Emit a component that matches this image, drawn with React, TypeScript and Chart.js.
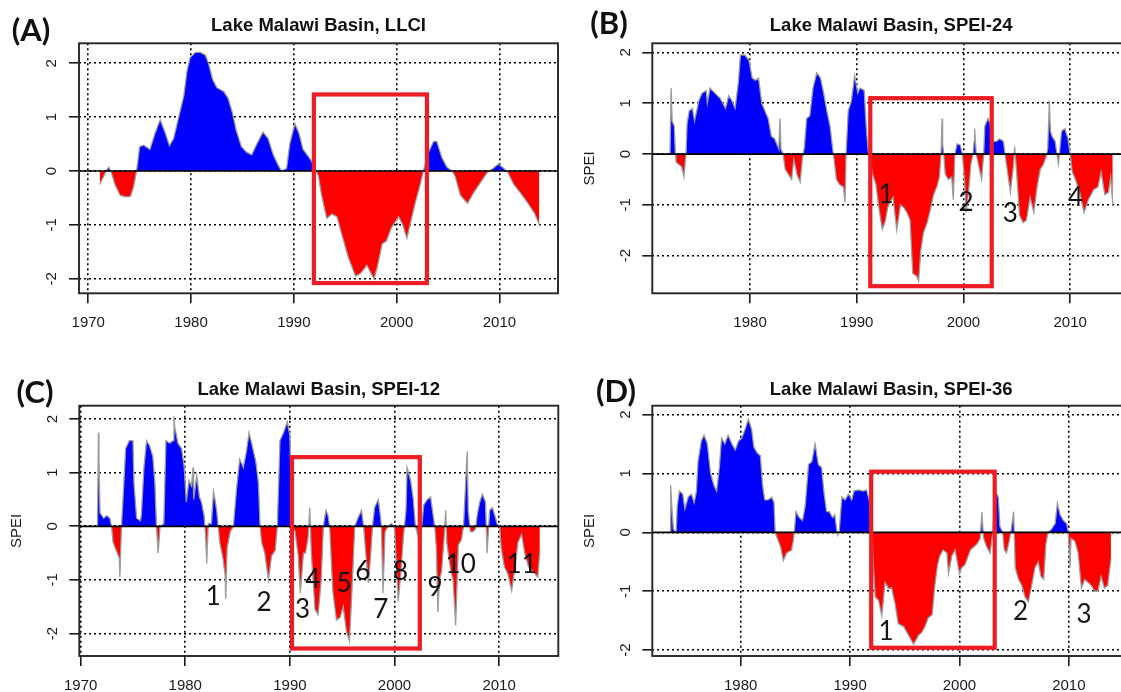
import React, { useEffect, useRef } from 'react';
import { Chart, registerables } from 'chart.js';

Chart.register(...registerables);

type Pt = [number, number];
type Mark = [string, number, number];

// ---------- data (year, index value) ----------
const llciSeries: Pt[] = [
  [1971.1, -0.25], [1971.5, -0.1], [1971.8, 0.02], [1972.0, 0.07], [1972.2, 0], [1972.6, -0.25],
  [1973.1, -0.45], [1973.6, -0.48], [1974.1, -0.47], [1974.4, -0.3], [1974.7, 0], [1975.0, 0.45],
  [1975.4, 0.48], [1976.0, 0.4], [1976.5, 0.7], [1977.0, 0.95], [1977.5, 0.7], [1977.9, 0.47],
  [1978.3, 0.6], [1978.8, 1.0], [1979.3, 1.4], [1979.6, 1.85], [1979.9, 2.1], [1980.4, 2.2],
  [1980.9, 2.2], [1981.4, 2.15], [1981.7, 2.0], [1982.1, 1.7], [1982.5, 1.55], [1983.2, 1.47],
  [1983.6, 1.35], [1984.0, 1.1], [1984.4, 0.75], [1984.9, 0.45], [1985.4, 0.35], [1985.9, 0.3],
  [1986.4, 0.5], [1987.0, 0.72], [1987.5, 0.6], [1988.0, 0.3], [1988.5, 0.1], [1988.8, 0.0],
  [1989.3, 0.05], [1989.6, 0.5], [1990.1, 0.88], [1990.5, 0.7], [1990.9, 0.4], [1991.6, 0.22],
  [1992.1, 0.05], [1992.4, -0.1], [1992.7, -0.45], [1993.2, -0.88], [1993.7, -0.8], [1994.2, -0.85],
  [1994.7, -1.2], [1995.3, -1.6], [1996.0, -1.95], [1996.5, -1.9], [1997.1, -1.75], [1997.8, -2.0],
  [1998.1, -1.8], [1998.6, -1.35], [1999.0, -1.3], [1999.5, -1.05], [2000.2, -0.85], [2000.6, -1.0],
  [2001.0, -1.25], [2001.3, -1.0], [2001.8, -0.6], [2002.3, -0.25], [2002.6, 0], [2003.1, 0.35],
  [2003.6, 0.55], [2003.9, 0.55], [2004.4, 0.25], [2004.9, 0.07], [2005.4, 0.0], [2005.7, -0.1],
  [2006.2, -0.45], [2006.9, -0.6], [2007.5, -0.4], [2008.2, -0.2], [2008.8, -0.03], [2009.4, 0.05],
  [2009.9, 0.13], [2010.4, 0.05], [2010.8, -0.02], [2011.4, -0.25], [2012.1, -0.42], [2012.7, -0.58],
  [2013.4, -0.78], [2013.9, -1.0],
];

const spei24Series: Pt[] = [
  [1972.5, 0], [1972.6, 1.3], [1972.7, 0.65], [1972.9, 0.55], [1973.0, 0], [1973.06, -0.15],
  [1973.3, -0.2], [1973.6, -0.25], [1973.8, -0.45], [1974.0, 0], [1974.1, 0.6], [1974.3, 0.85],
  [1974.6, 0.9], [1974.8, 0.65], [1975.2, 1.05], [1975.5, 1.2], [1975.9, 1.25], [1976.0, 1.0],
  [1976.25, 1.3], [1976.7, 1.2], [1977.2, 1.1], [1977.7, 0.9], [1978.0, 1.15], [1978.3, 1.05],
  [1978.6, 0.9], [1978.9, 1.4], [1979.1, 1.95], [1979.5, 1.95], [1979.9, 1.85], [1980.2, 1.5],
  [1980.5, 1.45], [1980.8, 1.5], [1981.1, 1.0], [1981.4, 0.85], [1981.7, 0.7], [1982.0, 0.35],
  [1982.3, 0.3], [1982.7, 0.1], [1982.8, 0.7], [1982.9, 0.1], [1983.1, 0], [1983.3, -0.3],
  [1983.6, -0.4], [1983.9, -0.5], [1984.1, -0.1], [1984.4, -0.4], [1984.7, -0.55], [1984.9, -0.1],
  [1985.1, 0.15], [1985.3, 0.7], [1985.6, 0.75], [1985.9, 1.3], [1986.25, 1.6], [1986.6, 1.5],
  [1986.9, 1.2], [1987.2, 0.85], [1987.5, 0.55], [1987.75, 0.1], [1987.9, -0.15], [1988.1, -0.5],
  [1988.4, -0.6], [1988.75, -0.65], [1988.9, -0.95], [1989.0, 0], [1989.2, 0.85], [1989.5, 1.05],
  [1989.8, 1.55], [1990.1, 1.2], [1990.3, 1.3], [1990.7, 1.25], [1990.9, 0.5], [1991.1, 0],
  [1991.3, -0.2], [1991.5, -0.4], [1991.8, -0.6], [1992.1, -1.1], [1992.4, -1.48], [1992.7, -1.3],
  [1992.9, -1.05], [1993.1, -0.95], [1993.4, -0.85], [1993.75, -1.5], [1994.1, -1.0], [1994.4, -1.05],
  [1994.7, -1.15], [1995.0, -1.3], [1995.25, -2.35], [1995.6, -2.4], [1995.8, -2.5], [1996.0, -1.9],
  [1996.25, -1.55], [1996.6, -1.35], [1996.9, -1.1], [1997.2, -0.8], [1997.5, -0.65], [1997.75, -0.45],
  [1997.9, 0], [1998.0, 0.7], [1998.05, 0.2], [1998.15, 0], [1998.3, -0.4], [1998.6, -0.5],
  [1998.9, -0.45], [1999.05, -0.9], [1999.2, 0], [1999.4, 0.2], [1999.7, 0.18], [1999.9, 0],
  [2000.1, -0.5], [2000.25, -1.15], [2000.5, -0.7], [2000.7, -0.2], [2000.9, 0], [2001.0, 0.25],
  [2001.05, 0.5], [2001.2, 0], [2001.4, -0.2], [2001.7, -0.5], [2001.9, 0], [2002.0, 0.55],
  [2002.3, 0.7], [2002.5, 0.6], [2002.75, 0.25], [2003.1, 0.25], [2003.4, 0.3], [2003.75, 0.25],
  [2003.9, 0], [2004.1, -0.3], [2004.4, -0.75], [2004.7, -0.2], [2004.8, 0.15], [2005.0, -0.4],
  [2005.25, -1.2], [2005.6, -1.35], [2005.9, -1.3], [2006.25, -0.85], [2006.6, -1.15], [2006.9, -0.65],
  [2007.2, -0.3], [2007.5, -0.2], [2007.75, -0.05], [2007.9, 0.1], [2008.05, 1.05], [2008.15, 0.45],
  [2008.3, 0.35], [2008.6, 0.25], [2008.9, -0.2], [2009.2, 0.45], [2009.5, 0.5], [2009.8, 0.3],
  [2010.0, 0], [2010.2, -0.35], [2010.5, -0.5], [2010.9, -0.75], [2011.3, -1.15], [2011.7, -0.9],
  [2012.2, -0.7], [2012.6, -0.65], [2012.9, -0.35], [2013.25, -0.8], [2013.6, -0.75], [2013.8, -0.45],
  [2014.0, -1.0],
];

const spei12Series: Pt[] = [
  [1971.6, 0], [1971.7, 1.75], [1971.75, 1.25], [1971.85, 0.25], [1972.2, 0.15], [1972.5, 0.2],
  [1972.8, 0.15], [1972.95, 0], [1973.1, -0.3], [1973.4, -0.45], [1973.7, -0.6], [1973.75, -0.95],
  [1973.9, 0], [1974.1, 0.7], [1974.3, 1.45], [1974.65, 1.6], [1975.0, 1.6], [1975.1, 0.8],
  [1975.35, 0.15], [1975.7, 0.1], [1975.8, 0.2], [1976.05, 1.1], [1976.3, 1.6], [1976.6, 1.5],
  [1976.9, 1.3], [1977.1, 0.8], [1977.25, 0], [1977.4, -0.5], [1977.6, 0], [1977.95, 0.05],
  [1978.15, 1.6], [1978.5, 1.55], [1978.85, 1.6], [1978.92, 2.05], [1979.0, 1.85], [1979.3, 1.55],
  [1979.65, 1.45], [1979.9, 1.1], [1980.1, 0.45], [1980.35, 0.85], [1980.6, 0.75], [1980.75, 1.1],
  [1980.8, 0.5], [1981.1, 0.95], [1981.35, 0.55], [1981.55, 0.45], [1981.8, 0.2], [1981.95, -0.2],
  [1982.05, -0.7], [1982.2, 0.05], [1982.5, 0.05], [1982.7, 0.65], [1982.8, 0.55], [1983.0, 0.3],
  [1983.15, 0], [1983.3, -0.3], [1983.6, -0.6], [1983.8, -0.9], [1983.87, -1.35], [1984.0, -0.4],
  [1984.3, -0.1], [1984.6, 0], [1984.9, 0.7], [1985.2, 1.25], [1985.55, 1.1], [1985.85, 1.4],
  [1986.1, 1.75], [1986.4, 1.5], [1986.75, 1.2], [1987.0, 0.8], [1987.15, 0], [1987.3, -0.3],
  [1987.6, -0.5], [1987.95, -1.0], [1988.25, -0.55], [1988.6, -0.45], [1988.8, 0], [1989.05, 1.6],
  [1989.4, 1.75], [1989.75, 1.95], [1990.0, 1.7], [1990.2, 0], [1990.5, -0.1], [1990.8, -0.55],
  [1991.0, -1.25], [1991.3, -0.5], [1991.5, -0.5], [1991.75, -0.2], [1991.9, 0.35], [1992.05, -0.5],
  [1992.4, -1.55], [1992.7, -1.65], [1993.0, -1.0], [1993.2, 0], [1993.45, 0.3], [1993.65, 0.2],
  [1993.8, 0], [1994.1, -1.2], [1994.45, -1.75], [1994.8, -1.7], [1995.1, -1.5], [1995.4, -1.95],
  [1995.7, -2.15], [1996.05, -0.7], [1996.2, 0], [1996.5, 0.15], [1996.85, 0.3], [1997.05, 0],
  [1997.25, -0.5], [1997.5, -1.05], [1997.7, -0.6], [1997.9, 0], [1998.1, 0.35], [1998.45, 0.5],
  [1998.65, 0.2], [1998.75, 0], [1998.9, -1.25], [1999.1, -0.1], [1999.4, 0], [1999.7, 0.05],
  [2000.0, 0], [2000.1, -0.4], [2000.35, -1.4], [2000.6, -0.9], [2000.85, -0.2], [2001.1, 0.3],
  [2001.2, 1.1], [2001.55, 0.85], [2001.8, 0.5], [2002.0, 0], [2002.2, -0.15], [2002.4, 0.15],
  [2002.6, 0], [2002.8, 0.4], [2003.15, 0.5], [2003.45, 0.55], [2003.7, 0.2], [2003.85, 0],
  [2004.0, -0.4], [2004.15, -1.6], [2004.3, -1.0], [2004.5, -0.85], [2004.75, -0.2], [2004.9, 0.3],
  [2005.0, -0.3], [2005.35, -0.8], [2005.6, -1.0], [2005.85, -1.85], [2006.1, -0.35], [2006.4, -0.25],
  [2006.6, 0], [2006.8, 0.8], [2006.95, 1.4], [2007.05, 0.3], [2007.25, -0.1], [2007.5, -0.1],
  [2007.75, -0.05], [2007.9, 0.2], [2008.15, 0.45], [2008.4, 0.6], [2008.7, 0.45], [2008.85, -0.5],
  [2009.1, 0.3], [2009.35, 0.35], [2009.6, 0.2], [2009.8, 0.05], [2010.05, 0], [2010.2, -0.4],
  [2010.5, -0.75], [2010.85, -0.9], [2011.2, -1.2], [2011.5, -0.8], [2011.8, -0.3], [2012.15, -0.15],
  [2012.45, -0.5], [2012.8, -0.75], [2013.25, -0.85], [2013.7, -0.95], [2013.9, -0.45],
];

const spei36Series: Pt[] = [
  [1973.55, 0], [1973.6, 0.8], [1973.7, 0.45], [1973.85, 0.05], [1974.1, 0], [1974.2, 0.45],
  [1974.4, 0.7], [1974.7, 0.65], [1974.9, 0.4], [1975.2, 0.6], [1975.5, 0.65], [1975.75, 0.5],
  [1975.95, 0.7], [1976.1, 1.2], [1976.4, 1.55], [1976.65, 1.65], [1976.95, 1.5], [1977.25, 1.0],
  [1977.55, 0.8], [1977.8, 0.7], [1978.05, 1.1], [1978.25, 1.6], [1978.55, 1.5], [1978.85, 1.65],
  [1979.2, 1.5], [1979.5, 1.4], [1979.8, 1.55], [1980.1, 1.6], [1980.4, 1.75], [1980.7, 1.92],
  [1981.0, 1.75], [1981.2, 1.45], [1981.5, 1.35], [1981.8, 1.3], [1982.0, 0.8], [1982.2, 0.55],
  [1982.5, 0.55], [1982.85, 0.6], [1983.05, 0.5], [1983.15, 0], [1983.35, -0.1], [1983.65, -0.25],
  [1983.9, -0.48], [1984.2, -0.35], [1984.65, -0.3], [1984.8, -0.15], [1984.9, 0], [1985.05, 0.35],
  [1985.35, 0.25], [1985.65, 0.2], [1985.9, 0.45], [1986.2, 1.15], [1986.5, 1.2], [1986.8, 1.5],
  [1987.1, 1.15], [1987.4, 1.1], [1987.6, 0.7], [1987.85, 0.35], [1988.1, 0.35], [1988.4, 0.25],
  [1988.6, 0.3], [1988.85, -0.05], [1989.0, 0], [1989.25, 0.6], [1989.55, 0.55], [1989.85, 0.65],
  [1990.15, 0.55], [1990.35, 0.7], [1990.75, 0.72], [1991.2, 0.7], [1991.5, 0.72], [1991.75, 0.55],
  [1992.0, 0], [1992.1, -0.45], [1992.3, -1.1], [1992.6, -1.15], [1992.9, -1.42], [1993.2, -0.85],
  [1993.5, -0.95], [1993.8, -0.95], [1994.1, -1.2], [1994.4, -1.55], [1994.9, -1.6], [1995.35, -1.75],
  [1995.8, -1.9], [1996.25, -1.75], [1996.55, -1.7], [1996.85, -1.6], [1997.15, -1.45], [1997.5, -1.4],
  [1997.75, -0.9], [1998.0, -0.55], [1998.2, -0.4], [1998.5, -0.3], [1998.85, -0.35], [1999.0, -0.7],
  [1999.3, -0.4], [1999.6, -0.3], [2000.0, -0.7], [2000.2, -0.6], [2000.5, -0.55], [2000.8, -0.4],
  [2001.0, -0.3], [2001.3, -0.25], [2001.6, -0.2], [2001.9, -0.1], [2002.05, 0.35], [2002.2, -0.1],
  [2002.5, -0.25], [2002.8, -0.35], [2003.05, 0], [2003.25, 0.7], [2003.55, 0.6], [2003.7, 0.1],
  [2003.95, 0], [2004.1, -0.3], [2004.3, -0.35], [2004.55, -0.15], [2004.7, 0], [2004.95, 0.35],
  [2005.1, -0.6], [2005.4, -0.8], [2005.7, -0.9], [2006.0, -1.1], [2006.3, -1.18], [2006.6, -0.9],
  [2006.9, -0.6], [2007.2, -0.5], [2007.45, -0.75], [2007.7, -0.8], [2007.9, -0.2], [2008.1, 0],
  [2008.4, 0.05], [2008.75, 0.15], [2008.95, 0.5], [2009.2, 0.3], [2009.5, 0.2], [2009.8, 0.15],
  [2009.95, 0], [2010.1, -0.6], [2010.2, -0.1], [2010.55, -0.15], [2010.85, -0.35], [2011.15, -0.95],
  [2011.45, -0.8], [2011.75, -0.85], [2012.05, -0.9], [2012.35, -1.0], [2012.65, -1.0], [2012.95, -0.75],
  [2013.25, -0.95], [2013.55, -0.9], [2013.85, -0.45],
];

// tick values
const xTicksFull = [1970, 1980, 1990, 2000, 2010];
const xTicksShort = [1980, 1990, 2000, 2010];
const yTicks = [-2, -1, 0, 1, 2];

// numbered drought events: [label, year, value]
const spei24Marks: Mark[] = [['1', 1992.75, -0.77], ['2', 2000.25, -0.93], ['3', 2004.4, -1.15], ['4', 2010.5, -0.84]];
const spei12Marks: Mark[] = [
  ['1', 1982.68, -1.29], ['2', 1987.52, -1.41], ['3', 1991.22, -1.54], ['4', 1992.18, -0.98],
  ['5', 1995.17, -1.04], ['6', 1996.96, -0.83], ['7', 1998.68, -1.54], ['8', 2000.59, -0.82],
  ['9', 2003.87, -1.12], ['10', 2006.33, -0.7], ['11', 2012.16, -0.7],
];
const spei36Marks: Mark[] = [['1', 1993.28, -1.66], ['2', 2005.59, -1.33], ['3', 2011.38, -1.38]];

// highlighted drought period [x0, x1, y0, y1]
const llciBox = [1991.95, 2002.95, -2.08, 1.42];
const spei24Box = [1991.27, 2002.65, -2.6, 1.1];
const spei12Box = [1990.2, 2002.42, -2.28, 1.29];
const spei36Box = [1991.93, 2003.22, -1.96, 1.03];

interface Panel {
  key: string;
  label: string;
  title: string;
  series: Pt[];
  xTicks: number[];
  xMin: number; xMax: number; yMin: number; yMax: number;
  marks: Mark[];
  box: number[];
  yTitle: boolean;
  canvas: { left: number; top: number; width: number; height: number };
  area: { left: number; top: number; right: number; bottom: number };
  labelPos: [number, number];
  titleY: number;
}

const panels: Panel[] = [
  {
    key: 'A', label: '(A)', title: 'Lake Malawi Basin, LLCI', series: llciSeries, xTicks: xTicksFull,
    xMin: 1969.1, xMax: 2015.7, yMin: -2.27, yMax: 2.37, marks: [], box: llciBox, yTitle: false,
    canvas: { left: 0, top: 0, width: 560, height: 345 },
    area: { left: 79, top: 43.3, right: 558, bottom: 293.3 },
    labelPos: [31, 30], titleY: 26,
  },
  {
    key: 'B', label: '(B)', title: 'Lake Malawi Basin, SPEI-24', series: spei24Series, xTicks: xTicksShort,
    xMin: 1970.84, xMax: 2015.61, yMin: -2.74, yMax: 2.18, marks: spei24Marks, box: spei24Box, yTitle: true,
    canvas: { left: 560, top: 0, width: 580, height: 345 },
    area: { left: 652.3, top: 43.3, right: 1130, bottom: 293.3 },
    labelPos: [609, 23], titleY: 26,
  },
  {
    key: 'C', label: '(C)', title: 'Lake Malawi Basin, SPEI-12', series: spei12Series, xTicks: xTicksFull,
    xMin: 1969.87, xMax: 2015.66, yMin: -2.42, yMax: 2.25, marks: spei12Marks, box: spei12Box, yTitle: true,
    canvas: { left: 0, top: 345, width: 560, height: 347 },
    area: { left: 79.3, top: 405.7, right: 558.3, bottom: 656 },
    labelPos: [35, 392], titleY: 390,
  },
  {
    key: 'D', label: '(D)', title: 'Lake Malawi Basin, SPEI-36', series: spei36Series, xTicks: xTicksShort,
    xMin: 1971.92, xMax: 2015.59, yMin: -2.1, yMax: 2.15, marks: spei36Marks, box: spei36Box, yTitle: true,
    canvas: { left: 560, top: 345, width: 580, height: 347 },
    area: { left: 652.3, top: 405.7, right: 1130, bottom: 656 },
    labelPos: [616, 391], titleY: 390,
  },
];

const TICK_FONT = { family: '"Liberation Sans", Arial, sans-serif', size: 15 };

function overlayPlugin(p: Panel) {
  return {
    id: 'overlay' + p.key,
    afterDraw(chart: any) {
      const { ctx, chartArea: ca, scales } = chart;
      const xs = scales.x;
      const ys = scales.y;
      const c = p.canvas;
      ctx.save();
      ctx.setLineDash([]);
      // zero line
      const y0 = ys.getPixelForValue(0);
      ctx.strokeStyle = '#000';
      ctx.lineWidth = 1.7;
      ctx.beginPath();
      ctx.moveTo(ca.left, y0);
      ctx.lineTo(ca.right, y0);
      ctx.stroke();
      // frame
      ctx.strokeStyle = '#262626';
      ctx.lineWidth = 1.9;
      ctx.strokeRect(ca.left, ca.top, ca.right - ca.left, ca.bottom - ca.top);
      // highlighted period
      const [bx0, bx1, by0, by1] = p.box;
      const L = xs.getPixelForValue(bx0);
      const R = xs.getPixelForValue(bx1);
      const T = ys.getPixelForValue(by1);
      const B = ys.getPixelForValue(by0);
      ctx.strokeStyle = '#ee1c25';
      ctx.lineWidth = 4.2;
      ctx.strokeRect(L, T, R - L, B - T);
      // event numbers
      ctx.fillStyle = '#141414';
      ctx.font = '26px Lato, "Open Sans", sans-serif';
      ctx.textAlign = 'center';
      ctx.textBaseline = 'alphabetic';
      for (const [t, mx, my] of p.marks) {
        ctx.fillText(t, xs.getPixelForValue(mx), ys.getPixelForValue(my) + 9.5);
      }
      // title
      ctx.font = 'bold 18.5px "Liberation Sans", Arial, sans-serif';
      ctx.fillStyle = '#111';
      ctx.textBaseline = 'middle';
      ctx.fillText(p.title, (ca.left + ca.right) / 2, p.titleY - c.top);
      // panel label
      ctx.font = 'bold 31px Lato, "Open Sans", sans-serif';
      ctx.textBaseline = 'alphabetic';
      ctx.fillText(p.label, p.labelPos[0] - c.left, p.labelPos[1] - c.top + 10.5);
      // y axis title
      if (p.yTitle) {
        ctx.font = '15px "Liberation Sans", Arial, sans-serif';
        ctx.fillStyle = '#1a1a1a';
        ctx.translate(ca.left - 62, (ca.top + ca.bottom) / 2);
        ctx.rotate(-Math.PI / 2);
        ctx.textBaseline = 'middle';
        ctx.fillText('SPEI', 0, 0);
      }
      ctx.restore();
    },
  };
}

function buildConfig(p: Panel): any {
  const a = p.area;
  const c = p.canvas;
  const padTop = a.top - c.top;
  const padRight = c.left + c.width - a.right;
  const yWidth = a.left - c.left;
  const xHeight = c.top + c.height - a.bottom;
  const gridCommon = {
    color: '#000',
    lineWidth: 1.6,
    borderDash: [2, 3],
    tickLength: 10,
    tickWidth: 1.6,
    tickColor: '#1a1a1a',
    tickBorderDash: [],
    drawOnChartArea: true,
    drawTicks: true,
  };
  return {
    type: 'line',
    data: {
      datasets: [
        {
          data: p.series.map(([x, y]) => ({ x, y })),
          borderColor: '#9c9c9c',
          borderWidth: 1.3,
          pointRadius: 0,
          tension: 0,
          fill: { target: 'origin', above: '#0000ff', below: '#ff0000' },
        },
      ],
    },
    options: {
      animation: false,
      responsive: false,
      maintainAspectRatio: false,
      devicePixelRatio: 1,
      layout: { padding: { top: padTop, right: padRight, left: 0, bottom: 0 } },
      plugins: { legend: { display: false }, tooltip: { enabled: false }, title: { display: false } },
      scales: {
        x: {
          type: 'linear',
          min: p.xMin,
          max: p.xMax,
          z: 1,
          afterBuildTicks: (s: any) => { s.ticks = p.xTicks.map((v) => ({ value: v })); },
          afterFit: (s: any) => { s.height = xHeight; },
          grid: gridCommon,
          border: { display: false, dash: [2, 3] },
          ticks: {
            color: '#1a1a1a', font: TICK_FONT, padding: 11, maxRotation: 0, minRotation: 0,
            autoSkip: false, callback: (v: any) => String(v),
          },
        },
        y: {
          type: 'linear',
          min: p.yMin,
          max: p.yMax,
          z: 1,
          afterBuildTicks: (s: any) => { s.ticks = yTicks.map((v) => ({ value: v })); },
          afterFit: (s: any) => { s.width = yWidth; },
          grid: gridCommon,
          border: { display: false, dash: [2, 3] },
          ticks: {
            color: '#1a1a1a', font: TICK_FONT, padding: 10, minRotation: 90, maxRotation: 90,
            crossAlign: 'center', autoSkip: false, callback: (v: any) => String(v),
          },
        },
      },
    },
    plugins: [overlayPlugin(p)],
  };
}

function PanelChart({ p }: { p: Panel }) {
  const ref = useRef<HTMLCanvasElement>(null);
  useEffect(() => {
    const chart = new Chart(ref.current as HTMLCanvasElement, buildConfig(p));
    return () => chart.destroy();
  }, [p]);
  const c = p.canvas;
  return (
    <canvas
      ref={ref}
      width={c.width}
      height={c.height}
      style={{ position: 'absolute', left: c.left, top: c.top, width: c.width, height: c.height }}
    />
  );
}

export default function App() {
  return (
    <div
      style={{
        position: 'fixed', left: 0, top: 0, width: 1121, height: 692,
        overflow: 'hidden', background: '#ffffff',
      }}
    >
      {panels.map((p) => (
        <PanelChart key={p.key} p={p} />
      ))}
    </div>
  );
}
